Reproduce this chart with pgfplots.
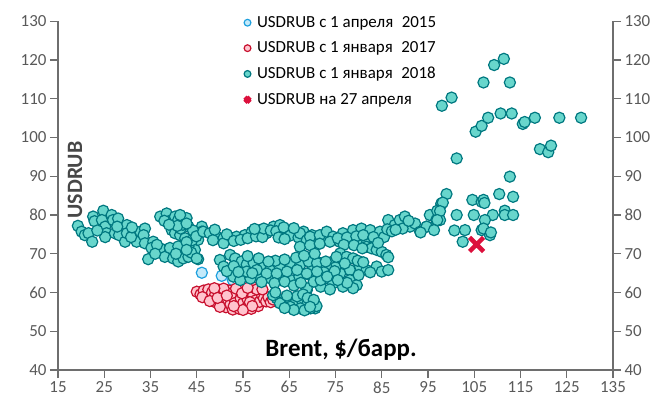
\documentclass[border=0pt]{standalone}
\usepackage{fontspec}
\setmainfont{Carlito}
\usepackage{pgfplots}
\pgfplotsset{compat=1.18}
\definecolor{tealfill}{RGB}{104,214,204}
\definecolor{tealedge}{RGB}{0,120,128}
\definecolor{redfill}{RGB}{255,196,206}
\definecolor{rededge}{RGB}{200,16,46}
\definecolor{bluefill}{RGB}{196,234,250}
\definecolor{blueedge}{RGB}{30,160,222}
\definecolor{crossc}{RGB}{220,16,60}
\definecolor{axgray}{RGB}{89,89,89}
\definecolor{linegray}{RGB}{110,110,110}

\pgfplotsset{
 base/.style={
  scale only axis, width=555bp, height=348.75bp, at={(58bp,30bp)}, anchor=south west,
  xmin=15,xmax=135,ymin=40,ymax=130,
  xtick={15,25,...,135}, ytick={40,50,...,130},
  tick align=outside, major tick length=8bp,
  axis line style={draw=linegray, line width=1.1pt},
  major tick style={draw=linegray, line width=1.1pt},
  tick label style={font=\fontsize{17}{20}\selectfont, text=axgray},
  /pgf/number format/assume math mode=true,
 }
}

\pgfplotstableread{
x y
46.1 65.1
50.4 64.3
52.8 63.2
56.0 62.6
}\blue

\pgfplotstableread{
x y
45.0 60.2
45.8 59.5
46.5 60.5
47.0 59.0
47.5 60.8
48.0 58.5
48.3 60.0
49.0 59.5
49.0 57.5
49.8 60.7
50.2 58.6
50.5 57.0
51.0 59.8
51.3 56.2
51.8 58.0
52.0 60.5
52.3 57.0
52.8 55.6
53.0 59.0
53.3 57.8
53.8 56.5
54.0 60.3
54.2 55.8
54.5 58.5
55.0 57.2
55.2 61.0
55.5 59.5
55.8 56.0
56.0 58.2
56.3 60.2
56.8 55.8
57.0 57.0
57.2 59.3
57.5 61.2
57.8 58.0
58.3 56.5
58.6 57.6
59.0 59.6
59.5 58.5
60.0 57.7
60.5 58.8
61.0 57.5
61.5 58.2
62.0 59.5
62.5 58.5
46.2 58.8
47.8 57.8
50.0 56.3
52.5 59.8
53.5 61.0
55.0 55.5
56.5 57.5
50.8 61.0
48.8 61.1
54.8 59.8
53.0 56.5
57.0 56.5
58.0 60.8
59.2 60.8
49.5 58.6
51.5 59.2
56.0 61.2
}\red

\pgfplotstableread{
x y
19.3 77.2
20.1 75.7
20.8 74.8
21.6 75.3
22.4 73.1
22.6 79.6
22.9 78.4
24.8 81.1
24.5 78.7
25.2 77.0
25.5 75.3
25.2 74.3
26.6 80.0
26.9 78.7
28.0 79.1
27.3 75.3
28.2 74.8
29.5 73.1
29.9 77.4
29.9 75.3
31.7 75.7
32.0 73.1
32.8 75.7
33.8 76.5
33.5 74.8
33.8 72.7
35.6 73.1
35.2 71.5
34.5 68.6
37.1 71.4
38.1 69.2
39.2 71.5
39.9 68.8
41.0 68.0
42.1 68.8
43.2 69.2
45.3 68.6
37.1 79.6
38.5 80.4
39.6 78.7
40.3 79.6
41.0 78.7
42.5 78.7
43.2 77.0
39.6 76.1
40.3 75.3
41.4 74.8
42.5 74.0
43.5 72.7
43.9 71.5
44.6 71.0
43.2 71.9
42.1 71.5
41.0 71.9
44.6 75.3
45.3 73.6
46.1 77.0
46.1 75.7
23.5 76.0
27.8 77.0
30.8 74.3
31.0 76.8
36.4 72.3
36.0 70.0
40.5 70.0
41.5 76.5
42.0 77.5
44.0 73.5
44.2 76.0
42.8 73.0
43.8 70.3
40.8 77.2
38.0 78.5
39.0 77.5
42.8 79.2
44.9 74.5
41.4 80.0
42.8 77.8
46.4 75.7
47.8 75.3
49.3 74.4
50.8 74.0
52.2 74.0
53.6 74.4
55.4 74.8
56.9 75.7
58.7 76.1
60.1 75.3
61.6 77.0
63.0 77.4
64.5 76.1
66.3 75.3
68.1 75.7
69.9 74.8
71.6 74.0
73.0 75.3
50.8 72.7
48.5 73.5
45.0 68.8
42.8 71.0
48.9 76.2
51.5 75.0
53.0 73.3
54.5 73.6
56.0 74.0
57.8 74.5
59.2 74.3
59.5 76.5
61.0 76.0
62.2 75.8
63.8 76.8
65.2 74.7
67.0 74.2
67.3 75.3
68.8 73.5
70.5 73.2
72.2 73.4
62.7 74.2
64.0 73.8
66.0 76.6
57.5 76.4
69.5 74.4
71.6 74.8
73.1 75.7
74.5 74.4
76.6 75.3
78.8 76.1
80.6 76.5
82.5 76.1
84.6 75.7
86.4 78.7
87.8 77.4
88.9 78.7
90.0 79.6
91.1 77.0
92.2 77.8
93.3 75.7
94.7 77.0
95.4 80.0
96.8 78.7
97.2 81.1
97.9 82.8
97.6 78.7
67.3 71.8
69.5 72.2
71.6 72.6
73.8 73.1
75.9 73.1
78.1 73.5
80.3 73.1
81.7 72.6
81.7 71.8
82.8 71.4
83.9 71.0
85.0 70.5
86.0 69.7
86.4 69.1
75.5 74.0
77.5 74.2
79.5 74.5
81.0 74.8
83.2 74.3
85.5 74.3
86.2 76.3
89.5 76.5
90.8 78.5
76.8 72.3
79.0 72.2
80.8 71.4
84.2 72.8
87.2 75.8
88.0 76.2
76.0 70.1
77.4 69.2
78.8 68.8
74.5 68.0
71.6 67.6
69.5 68.0
80.3 66.7
81.7 65.8
83.9 66.7
85.0 65.4
86.4 65.8
78.1 65.8
76.0 64.9
73.1 63.7
70.9 63.2
69.5 64.5
78.1 63.2
79.6 61.9
78.8 61.1
76.6 61.5
74.5 62.4
68.8 60.6
75.0 66.5
77.0 67.5
73.0 66.8
72.5 65.2
74.8 65.5
80.0 64.5
82.5 65.2
77.5 62.5
75.5 63.2
71.8 61.5
73.8 60.8
70.0 66.0
79.8 68.2
81.0 67.8
75.2 69.2
50.0 68.4
50.8 66.7
52.2 69.7
53.3 68.8
54.7 68.0
55.8 67.2
57.3 67.6
59.5 66.7
60.8 65.8
63.0 66.3
65.2 67.6
67.4 67.2
69.2 68.0
71.0 67.6
72.9 68.0
52.9 64.1
54.4 63.2
56.6 63.6
58.8 64.1
61.0 63.6
63.2 64.1
65.4 63.2
67.2 64.1
68.8 61.1
70.3 62.8
71.8 63.2
73.2 64.1
55.8 65.4
58.0 65.8
60.1 64.9
62.3 64.9
64.5 65.4
66.7 65.8
68.8 64.9
71.0 65.4
51.5 65.5
53.0 66.8
54.0 65.3
57.0 65.0
59.0 62.7
61.8 62.4
64.0 62.8
66.0 61.8
67.5 62.5
62.0 68.2
64.0 68.5
66.5 69.0
68.2 69.5
70.5 70.0
56.0 69.4
58.4 68.8
60.5 68.0
62.3 58.5
63.7 57.6
65.2 58.1
66.3 57.2
67.7 58.1
68.8 56.8
70.3 57.6
70.6 55.9
69.6 55.9
67.4 55.9
65.2 56.3
63.0 57.2
66.7 59.0
61.5 59.3
64.5 59.2
68.0 59.5
69.0 58.6
66.0 55.5
68.3 55.4
70.9 56.5
64.0 56.0
62.0 60.0
70.3 58.1
69.5 56.3
98.0 108.2
100.1 110.3
107.0 114.2
109.3 118.7
111.4 120.3
112.7 114.2
101.2 94.6
105.3 101.5
106.6 103.0
108.0 105.1
110.7 106.2
113.1 106.2
115.5 103.5
115.9 104.0
118.1 105.1
123.4 105.1
128.1 105.1
119.2 97.0
121.0 96.2
121.6 97.9
112.7 89.9
113.4 84.7
110.4 85.4
104.6 83.9
106.6 83.4
107.0 83.9
107.2 83.1
99.0 85.4
97.9 83.0
97.0 81.1
101.2 80.0
104.9 80.0
109.0 80.0
111.6 81.1
111.6 80.0
113.4 80.0
107.3 78.7
100.7 76.0
103.0 76.1
106.6 76.1
102.5 73.1
108.4 74.8
107.0 76.5
98.2 83.2
97.6 81.0
97.0 78.7
94.7 77.0
96.3 76.1
93.4 75.5
108.6 75.5
}\teal

\begin{document}
\begin{tikzpicture}
\useasboundingbox (0,0) rectangle (664bp,400bp);
\begin{axis}[base,
  axis x line*=bottom, axis y line*=left,
  clip=false,
  xlabel={Brent, \$/барр.},
  ylabel={USDRUB},
  xlabel style={at={(rel axis cs:0.510,0.040)}, anchor=base, font=\fontsize{25}{29}\selectfont\bfseries, text=black},
  ylabel style={at={(rel axis cs:0.0306,0.545)}, anchor=center, rotate=0, font=\fontsize{22}{26}\selectfont\bfseries, text=axgray!80!black},
  legend style={draw=none, fill=none, at={(0.335,1.02)}, anchor=north west,
    font=\fontsize{17}{20}\selectfont, row sep=9bp, inner sep=0pt},
  legend cell align=left,
  legend image code/.code={\path (0cm,0cm) (0.36cm,0cm); \draw[#1, mark size=3.4pt] plot coordinates {(0.1cm,0cm)};},
]
\addplot[only marks, mark=*, mark size=5.6pt, mark options={fill=bluefill, draw=blueedge, line width=1.2pt}] table[x=x,y=y] {\blue};
\addlegendentry{USDRUB с 1 апреля\enspace 2015}
\addplot[only marks, mark=*, mark size=5.6pt, mark options={fill=redfill, draw=rededge, line width=1.2pt}] table[x=x,y=y] {\red};
\addlegendentry{USDRUB с 1 января\enspace 2017}
\addplot[only marks, mark=*, mark size=5.6pt, mark options={fill=tealfill, draw=tealedge, line width=1.2pt}] table[x=x,y=y] {\teal};
\addlegendentry{USDRUB с 1 января\enspace 2018}
\addplot[only marks, mark=x, mark size=10pt, mark options={draw=crossc, line width=4.5pt},
  legend image code/.code={\path (0cm,0cm) (0.36cm,0cm); \draw[crossc, line width=2.3pt] plot[mark=x, mark size=3.6pt, only marks] coordinates {(0.1cm,0cm)};}] coordinates {(105.5,72.4)};
\addlegendentry{USDRUB на 27 апреля}
\end{axis}
\begin{axis}[base,
  axis x line=none, axis y line*=right,
]
\end{axis}
\end{tikzpicture}
\end{document}
